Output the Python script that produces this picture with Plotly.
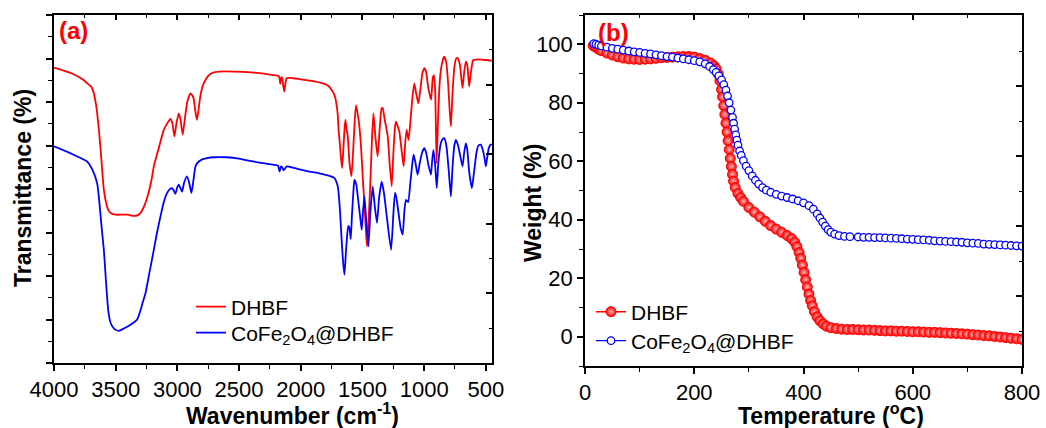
import plotly.graph_objects as go

# ---------------- FTIR data (panel a) ----------------
ftir_dhbf_wn = [4000, 3850, 3763, 3731, 3700, 3682, 3660, 3650, 3636, 3622, 3610, 3596, 3575, 3560, 3541,
                3501, 3450, 3400, 3353, 3320, 3299, 3270, 3240, 3210, 3191, 3150, 3110, 3080, 3056, 3040,
                3024, 3008, 2989, 2975, 2957, 2940, 2920, 2894, 2870, 2855, 2841, 2825, 2810, 2787, 2750,
                2706, 2657, 2544, 2400, 2226, 2177, 2166, 2160, 2153, 2134, 2113, 2000, 1900, 1822, 1780,
                1741, 1720, 1708, 1700, 1692, 1686, 1675, 1665, 1655, 1645, 1638, 1630, 1619, 1605, 1589,
                1575, 1562, 1552, 1540, 1525, 1510, 1498, 1485, 1473, 1463, 1450, 1436, 1422, 1411, 1395,
                1377, 1360, 1345, 1336, 1320, 1295, 1280, 1263, 1248, 1235, 1228, 1215, 1201, 1185, 1166,
                1155, 1142, 1126, 1110, 1095, 1080, 1065, 1047, 1030, 1015, 999, 985, 965, 944, 930,
                920, 910, 899, 885, 870, 850, 837, 820, 805, 793, 783, 770, 755, 740, 729,
                710, 689, 675, 662, 650, 635, 620, 605, 594, 560, 520, 480, 451]
ftir_dhbf_t = [6.79, 6.65, 6.51, 6.43, 6.36, 6.25, 5.95, 5.74, 5.35, 4.90, 4.45, 3.98, 3.65, 3.52, 3.45,
               3.41, 3.41, 3.41, 3.38, 3.40, 3.45, 3.60, 3.85, 4.20, 4.52, 4.95, 5.36, 5.52, 5.61, 5.50,
               5.21, 5.50, 5.74, 5.60, 5.25, 5.60, 6.00, 6.20, 6.10, 5.80, 5.59, 5.90, 6.20, 6.43, 6.60,
               6.68, 6.70, 6.70, 6.68, 6.62, 6.59, 6.42, 6.55, 6.57, 6.24, 6.55, 6.52, 6.48, 6.43, 6.38,
               6.24, 6.10, 5.90, 5.70, 5.30, 5.13, 4.75, 4.48, 4.90, 5.40, 5.59, 5.40, 5.21, 4.60, 4.29,
               4.90, 5.60, 5.93, 5.75, 5.44, 4.90, 4.29, 3.70, 3.10, 2.68, 3.30, 4.14, 5.20, 5.74, 5.20,
               4.75, 5.40, 5.85, 5.86, 5.60, 5.21, 4.60, 4.06, 4.90, 5.45, 5.55, 5.45, 5.32, 4.95, 4.52,
               5.00, 5.36, 5.13, 5.60, 6.10, 6.43, 6.20, 5.97, 6.30, 6.65, 6.78, 6.70, 6.30, 6.05, 6.55,
               6.62, 6.20, 4.59, 5.80, 6.60, 6.95, 7.04, 6.90, 6.40, 5.80, 5.44, 6.20, 6.80, 7.00, 7.01,
               6.85, 6.32, 6.70, 6.93, 6.85, 6.36, 6.70, 6.95, 6.97, 6.98, 6.97, 6.96, 6.95]

ftir_cofe_wn = [4000, 3850, 3731, 3690, 3650, 3636, 3622, 3610, 3596, 3585, 3574, 3560, 3541, 3510, 3474,
                3430, 3380, 3326, 3300, 3280, 3258, 3225, 3191, 3165, 3137, 3110, 3083, 3060, 3043, 3030,
                3016, 3000, 2989, 2975, 2962, 2945, 2922, 2905, 2886, 2870, 2855, 2841, 2800, 2760, 2700,
                2603, 2500, 2400, 2226, 2185, 2172, 2160, 2150, 2140, 2113, 2050, 1929, 1850, 1767, 1727,
                1700, 1690, 1681, 1670, 1659, 1646, 1635, 1625, 1615, 1605, 1595, 1585, 1572, 1565, 1550,
                1538, 1520, 1506, 1495, 1484, 1470, 1452, 1435, 1417, 1400, 1382, 1365, 1344, 1325, 1300,
                1268, 1250, 1236, 1225, 1210, 1190, 1174, 1160, 1147, 1130, 1110, 1095, 1085, 1070, 1053,
                1035, 1015, 999, 985, 965, 945, 935, 925, 912, 898, 885, 865, 850, 837, 820,
                800, 783, 770, 755, 743, 725, 710, 689, 675, 662, 650, 635, 613, 595, 575,
                560, 541, 525, 510, 500, 490, 475, 460, 451]
ftir_cofe_t = [4.98, 4.80, 4.63, 4.45, 4.13, 3.80, 3.37, 3.00, 2.60, 2.15, 1.68, 1.20, 0.92, 0.78, 0.74,
               0.80, 0.88, 1.00, 1.20, 1.40, 1.61, 2.10, 2.60, 3.00, 3.37, 3.70, 3.91, 4.00, 4.02, 3.97,
               3.89, 4.05, 4.10, 4.02, 3.94, 4.15, 4.29, 4.15, 3.91, 4.20, 4.50, 4.59, 4.68, 4.71, 4.73,
               4.73, 4.70, 4.64, 4.56, 4.54, 4.40, 4.52, 4.50, 4.43, 4.52, 4.48, 4.40, 4.36, 4.30, 4.25,
               4.06, 3.80, 3.45, 2.90, 2.40, 2.03, 2.50, 2.90, 3.15, 3.10, 2.85, 3.40, 4.00, 4.21, 4.10,
               3.83, 3.40, 3.06, 3.50, 3.83, 3.30, 2.68, 3.50, 4.06, 3.60, 3.22, 3.80, 4.17, 3.90, 3.30,
               2.60, 3.40, 3.91, 3.80, 3.50, 3.10, 2.95, 3.50, 3.75, 3.70, 4.20, 4.60, 4.79, 4.60, 4.33,
               4.60, 4.85, 4.94, 4.85, 4.55, 4.33, 4.65, 4.90, 4.60, 4.02, 4.60, 5.05, 5.15, 5.17, 5.00,
               4.40, 3.83, 4.50, 5.00, 5.13, 5.00, 4.80, 4.52, 4.85, 5.05, 4.90, 4.40, 4.02, 4.40, 4.85,
               5.00, 5.02, 4.90, 4.70, 4.52, 4.70, 4.95, 5.02, 5.02]

# ---------------- TGA data (panel b) ----------------
tga_dhbf_temp = [15, 20, 25, 30, 40, 50, 60, 70, 80, 90, 100, 110, 120, 130, 140, 150, 160, 170, 180, 190,
                 200, 210, 220, 230, 236, 240, 244, 247, 250, 252, 254, 256, 258, 260, 262, 264, 266, 268, 270, 272,
                 275, 280, 285, 290, 300, 310, 320, 330, 340, 350, 360, 370, 378, 384, 388, 392, 395, 398, 401, 404,
                 407, 410, 413, 416, 420, 425, 430, 436, 442, 450, 460, 470, 480, 490, 500, 510, 520, 530, 540, 550,
                 560, 570, 580, 590, 600, 610, 620, 630, 640, 650, 660, 670, 680, 690, 700, 710, 720, 730, 740, 750,
                 760, 770, 780, 790, 800]
tga_dhbf_w = [99.5, 98.9, 98.3, 97.8, 97.0, 96.3, 95.7, 95.3, 95.0, 94.9, 94.8, 94.9, 95.0, 95.2, 95.4, 95.5, 95.6, 95.7, 95.8, 95.8,
              95.6, 95.1, 94.5, 93.6, 92.6, 91.6, 89.8, 87.5, 84.5, 82.0, 79.0, 76.0, 73.0, 70.0, 67.0, 64.0, 61.0, 58.2, 55.5, 53.2,
              51.0, 49.0, 47.6, 46.3, 44.2, 42.6, 41.0, 39.5, 38.0, 36.8, 35.7, 34.6, 33.6, 32.3, 30.8, 28.8, 26.8, 24.5, 22.0, 19.5,
              17.0, 14.6, 12.4, 10.6, 8.6, 6.8, 5.5, 4.4, 3.6, 3.1, 2.8, 2.6, 2.5, 2.5, 2.4, 2.3, 2.3, 2.2, 2.1, 2.0,
              2.0, 1.9, 1.9, 1.8, 1.7, 1.7, 1.6, 1.5, 1.5, 1.4, 1.3, 1.2, 1.1, 1.0, 0.9, 0.7, 0.6, 0.4, 0.3, 0.1,
              -0.1, -0.3, -0.5, -0.7, -0.9]

tga_cofe_temp = [16, 20, 25, 30, 40, 50, 60, 70, 80, 90, 100, 110, 120, 130, 140, 150, 160, 170, 180, 190,
                 200, 210, 220, 228, 235, 240, 245, 250, 254, 258, 261, 264, 267, 270, 272, 274, 276, 278, 280, 283,
                 286, 290, 295, 300, 306, 312, 318, 325, 332, 340, 350, 360, 370, 380, 390, 400, 410, 418, 425, 430,
                 435, 440, 445, 450, 457, 465, 475, 485, 500, 510, 520, 530, 540, 550, 560, 570, 580, 590, 600, 610,
                 620, 630, 640, 650, 660, 670, 680, 690, 700, 710, 720, 730, 740, 750, 760, 770, 780, 790, 800]
tga_cofe_w = [100.2, 100.0, 99.7, 99.4, 99.0, 98.6, 98.3, 98.0, 97.7, 97.4, 97.2, 96.9, 96.7, 96.4, 96.1, 95.8, 95.6, 95.3, 95.0, 94.7,
              94.4, 94.0, 93.3, 92.4, 91.3, 90.4, 89.2, 87.8, 86.2, 84.3, 82.3, 80.0, 77.5, 75.0, 73.0, 71.0, 69.0, 67.2, 65.5, 63.5,
              62.0, 60.2, 58.3, 56.8, 55.0, 53.5, 52.2, 51.0, 50.1, 49.4, 48.7, 48.1, 47.6, 47.1, 46.5, 45.8, 44.8, 43.6, 42.0, 40.6,
              39.2, 37.8, 36.6, 35.8, 35.1, 34.6, 34.3, 34.2, 34.1, 34.0, 34.0, 33.9, 33.9, 33.8, 33.7, 33.6, 33.5, 33.4, 33.3, 33.2,
              33.1, 33.0, 32.8, 32.7, 32.6, 32.5, 32.4, 32.3, 32.1, 32.0, 31.9, 31.7, 31.6, 31.5, 31.4, 31.3, 31.2, 31.1, 31.0]

label_dhbf = "DHBF"
label_cofe = "CoFe<sub>2</sub>O<sub>4</sub>@DHBF"

FONT = "Liberation Sans, Arial, sans-serif"
RED = "#ff0000"
BLUE = "#0000ff"

fig = go.Figure()

# Panel (a)
fig.add_trace(go.Scatter(x=ftir_dhbf_wn, y=ftir_dhbf_t, mode="lines", name=label_dhbf,
                         line=dict(color=RED, width=1.8, shape="spline", smoothing=0.5),
                         xaxis="x", yaxis="y", legend="legend"))
fig.add_trace(go.Scatter(x=ftir_cofe_wn, y=ftir_cofe_t, mode="lines", name=label_cofe,
                         line=dict(color=BLUE, width=1.8, shape="spline", smoothing=0.5),
                         xaxis="x", yaxis="y", legend="legend3"))

# Panel (b)
fig.add_trace(go.Scatter(x=tga_dhbf_temp, y=tga_dhbf_w, mode="lines+markers", name=label_dhbf,
                         line=dict(color=RED, width=1.5),
                         marker=dict(symbol="circle", size=10, color=RED,
                                     gradient=dict(type="radial", color="#ffb8b8"),
                                     line=dict(color=RED, width=1)),
                         xaxis="x2", yaxis="y2", legend="legend2"))
fig.add_trace(go.Scatter(x=tga_cofe_temp, y=tga_cofe_w, mode="lines+markers", name=label_cofe,
                         line=dict(color=BLUE, width=1.2),
                         marker=dict(symbol="circle", size=7.5, color="white",
                                     line=dict(color=BLUE, width=1.3)),
                         xaxis="x2", yaxis="y2", legend="legend4"))

# dummy traces for mirrored tick axes
for xa, ya in (("x3", "y3"), ("x4", "y4")):
    fig.add_trace(go.Scatter(x=[None], y=[None], xaxis=xa, yaxis=ya, showlegend=False, hoverinfo="skip"))

axis_common = dict(showline=True, linecolor="black", linewidth=1.5, showgrid=False, zeroline=False,
                   tickcolor="black", tickwidth=1.5, ticklen=6, automargin=False,
                   tickfont=dict(family=FONT, size=22, color="black"))

dom_ax = [54 / 1046, 492 / 1046]
dom_ay = [1 - 363 / 428, 1 - 15 / 428]
dom_bx = [585 / 1046, 1022 / 1046]
dom_by = [1 - 366 / 428, 1 - 15 / 428]

over_common = dict(showticklabels=False, showline=False, showgrid=False, zeroline=False,
                   tickcolor="black", tickwidth=1.5, automargin=False)


def leg(xpx, ypx):
    return dict(x=xpx / 1046, y=1 - ypx / 428, xanchor="left", yanchor="middle",
                bgcolor="rgba(0,0,0,0)", font=dict(family=FONT, size=21, color="black"),
                itemwidth=30, tracegroupgap=0, borderwidth=0)


fig.update_layout(
    width=1046, height=428, autosize=False,
    margin=dict(l=0, r=0, t=0, b=0, pad=0, autoexpand=False),
    paper_bgcolor="white", plot_bgcolor="white",
    font=dict(family=FONT, color="black"),
    xaxis=dict(domain=dom_ax, range=[4000, 450], anchor="y", ticks="outside", dtick=500, tick0=0,
               minor=dict(dtick=250, ticks="outside", ticklen=4, tickcolor="black", tickwidth=1.2),
               mirror=True, **axis_common),
    yaxis=dict(domain=dom_ay, range=[0, 8], anchor="x", ticks="outside", dtick=1, tick0=0,
               showticklabels=False,
               minor=dict(dtick=0.5, ticks="outside", ticklen=4, tickcolor="black", tickwidth=1.2),
               mirror=True, **axis_common),
    xaxis2=dict(domain=dom_bx, range=[0, 800], anchor="y2", ticks="outside", dtick=200, tick0=0,
                minor=dict(dtick=100, ticks="outside", ticklen=4, tickcolor="black", tickwidth=1.2),
                mirror=True, **axis_common),
    yaxis2=dict(domain=dom_by, range=[-10, 110], anchor="x2", ticks="outside", dtick=20, tick0=0,
                minor=dict(dtick=10, ticks="outside", ticklen=4, tickcolor="black", tickwidth=1.2),
                mirror=True, **axis_common),
    xaxis3=dict(overlaying="x", side="top", anchor="y3", range=[4000, 450], ticks="inside",
                dtick=500, tick0=0, ticklen=5,
                minor=dict(dtick=250, ticks="inside", ticklen=3, tickcolor="black", tickwidth=1.2), **over_common),
    yaxis3=dict(overlaying="y", side="right", anchor="x3", range=[0, 348], ticks="inside",
                dtick=69.6, tick0=0, ticklen=6,
                minor=dict(dtick=34.8, ticks="inside", ticklen=3, tickcolor="black", tickwidth=1.2), **over_common),
    xaxis4=dict(overlaying="x2", side="top", anchor="y4", range=[0, 800], ticks="inside",
                dtick=200, tick0=0, ticklen=5,
                minor=dict(dtick=100, ticks="inside", ticklen=3, tickcolor="black", tickwidth=1.2), **over_common),
    yaxis4=dict(overlaying="y2", side="right", anchor="x4", range=[0, 351], ticks="inside",
                dtick=70, tick0=0, ticklen=6,
                minor=dict(dtick=35, ticks="inside", ticklen=3, tickcolor="black", tickwidth=1.2), **over_common),
    legend=leg(191, 307),
    legend3=leg(191, 333),
    legend2=leg(591, 312),
    legend4=leg(591, 341),
    showlegend=True,
)

annos = [
    dict(text="<b>(a)</b>", x=57, y=31, font=dict(size=24, color=RED)),
    dict(text="<b>(b)</b>", x=596, y=32, font=dict(size=24, color=RED)),
    dict(text="<b>Transmittance (%)</b>", x=23, y=188, textangle=-90, font=dict(size=23, color="black"), xa="center"),
    dict(text="<b>Wavenumber (cm<sup>-1</sup>)</b>", x=292, y=414, font=dict(size=23, color="black"), xa="center"),
    dict(text="<b>Weight (%)</b>", x=533, y=203, textangle=-90, font=dict(size=23, color="black"), xa="center"),
    dict(text="<b>Temperature (<sup>o</sup>C)</b>", x=831, y=414, font=dict(size=23, color="black"), xa="center"),
]
for a in annos:
    xa = a.pop("xa", "left")
    fig.add_annotation(xref="paper", yref="paper", x=a.pop("x") / 1046, y=1 - a.pop("y") / 428,
                       xanchor=xa, yanchor="middle", showarrow=False,
                       font=dict(family=FONT, **a.pop("font")), **a)

fig.write_html("out.html", config={"displayModeBar": False},
               post_script="document.body.style.margin='0';document.body.style.padding='0';"
                           "document.body.style.overflow='hidden';")
